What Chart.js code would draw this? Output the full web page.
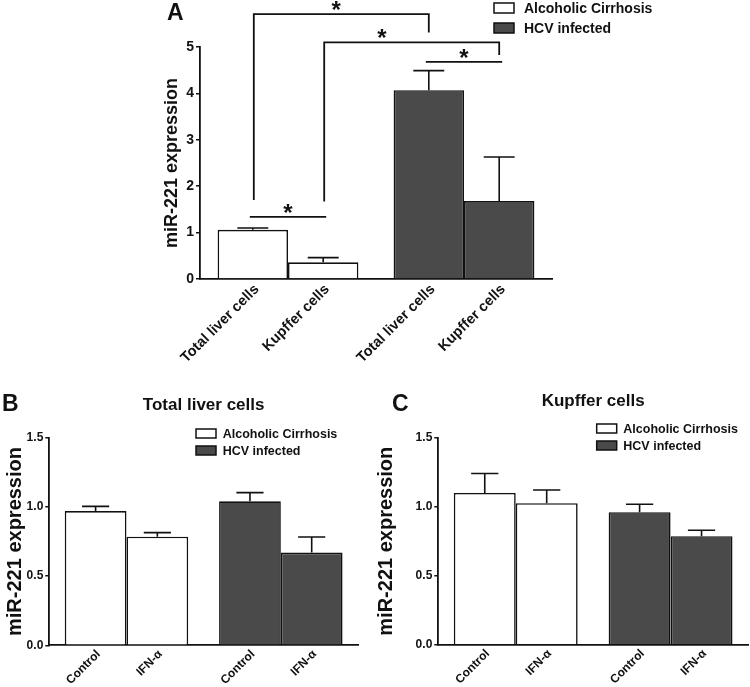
<!DOCTYPE html>
<html>
<head>
<meta charset="utf-8">
<script src="https://cdn.jsdelivr.net/npm/chart.js@4.4.1/dist/chart.umd.min.js"></script>
<style>
  body { margin: 0; background: #fff; width: 750px; height: 687px; position: relative; overflow: hidden; font-family: "Liberation Sans", Arial, sans-serif; }
  .panel { position: absolute; }
  .letter { position: absolute; font-size: 23px; font-weight: bold; line-height: 23px; color: #111; }
</style>
</head>
<body>
<div class="panel" style="left:0;top:0;width:750px;height:385px"><canvas id="chartA"></canvas></div>
<div class="panel" style="left:0;top:385px;width:370px;height:302px"><canvas id="chartB"></canvas></div>
<div class="panel" style="left:370px;top:385px;width:380px;height:302px"><canvas id="chartC"></canvas></div>
<div class="letter" style="left:167px;top:1px">A</div>
<div class="letter" style="left:2px;top:392px">B</div>
<div class="letter" style="left:392px;top:392px">C</div>
<script>
// groups (patients) and their bar colours
const groups = ['Alcoholic Cirrhosis', 'HCV infected'];
const groupColors = ['#ffffff', '#4a4a4a'];

// panel A - mean and SEM per group
const cellTypes = ['Total liver cells', 'Kupffer cells'];
const totalA = [1.06, 4.07];
const totalErrA = [0.04, 0.42];
const kupfferA = [0.36, 1.68];
const kupfferErrA = [0.10, 0.95];

// panel A significance lines (bar index in drawing order, heights in axis units)
const sigFrom = [0, 1, 2, 0];
const sigTo = [2, 3, 3, 1];
const sigLeftFoot = [1.70, 1.67, null, null];
const sigTop = [5.71, 5.10, 4.68, 1.34];
const sigRightFoot = [5.31, 4.83, null, null];
const sigStarAt = [0.47, 0.33, 0.5, 0.5];

// panels B and C
const treatments = ['Control', 'IFN-α'];
const controlB = [0.97, 1.04];
const controlErrB = [0.034, 0.063];
const ifnB = [0.785, 0.67];
const ifnErrB = [0.029, 0.113];

const controlC = [1.10, 0.96];
const controlErrC = [0.141, 0.058];
const ifnC = [1.025, 0.786];
const ifnErrC = [0.096, 0.043];

const FONT = '"Liberation Sans", Arial, sans-serif';
Chart.defaults.font.family = FONT;
Chart.defaults.font.weight = 'bold';
Chart.defaults.color = '#111';

const errorBars = {
  id: 'errorBars',
  afterDatasetsDraw(chart) {
    const ctx = chart.ctx, y = chart.scales.y;
    chart.data.datasets.forEach((ds, i) => {
      chart.getDatasetMeta(i).data.forEach((bar, j) => {
        const top = y.getPixelForValue(ds.data[j] + ds.errors[j]);
        const cap = bar.width * 0.22;
        ctx.save();
        ctx.strokeStyle = '#111';
        ctx.lineWidth = 1.6;
        ctx.beginPath();
        ctx.moveTo(bar.x, bar.y);
        ctx.lineTo(bar.x, top);
        ctx.moveTo(bar.x - cap, top);
        ctx.lineTo(bar.x + cap, top);
        ctx.stroke();
        ctx.restore();
      });
    });
  }
};

// each bar gets its own slanted label under the axis
const barLabels = {
  id: 'barLabels',
  afterDraw(chart, args, opts) {
    const ctx = chart.ctx, bottom = chart.chartArea.bottom;
    ctx.save();
    ctx.font = `bold ${opts.size}px ${FONT}`;
    ctx.fillStyle = '#111';
    ctx.textAlign = 'right';
    ctx.textBaseline = 'middle';
    chart.data.datasets.forEach((ds, i) => {
      chart.getDatasetMeta(i).data.forEach(bar => {
        ctx.save();
        ctx.translate(bar.x + opts.dx, bottom + opts.dy);
        ctx.rotate(-Math.PI / 4);
        ctx.fillText(ds.label, 0, 0);
        ctx.restore();
      });
    });
    ctx.restore();
  }
};

const boxLegend = {
  id: 'boxLegend',
  afterDraw(chart, args, opts) {
    const ctx = chart.ctx, a = chart.chartArea;
    ctx.save();
    ctx.font = `bold ${opts.size}px ${FONT}`;
    ctx.textBaseline = 'middle';
    ctx.textAlign = 'left';
    chart.data.labels.forEach((name, k) => {
      const x = a.left + opts.x, y = a.top + opts.y + k * opts.row;
      ctx.fillStyle = groupColors[k];
      ctx.fillRect(x, y, 20, opts.box);
      ctx.strokeStyle = '#111';
      ctx.lineWidth = 1.5;
      ctx.strokeRect(x, y, 20, opts.box);
      ctx.fillStyle = '#111';
      ctx.fillText(name, x + opts.gap, y + opts.box / 2 + 1);
    });
    ctx.restore();
  }
};

const sigBrackets = {
  id: 'sigBrackets',
  afterDraw(chart, args, opts) {
    if (!opts.show) return;
    const ctx = chart.ctx, y = chart.scales.y;
    const bars = [];
    chart.data.labels.forEach((g, j) => {
      chart.data.datasets.forEach((ds, i) => bars.push(chart.getDatasetMeta(i).data[j]));
    });
    ctx.save();
    ctx.strokeStyle = '#111';
    ctx.fillStyle = '#111';
    ctx.lineWidth = 1.8;
    ctx.font = `bold 24px ${FONT}`;
    ctx.textAlign = 'center';
    sigTop.forEach((v, k) => {
      const flat = sigLeftFoot[k] === null;
      const x1 = bars[sigFrom[k]].x + (flat ? -3 : 1);
      const x2 = bars[sigTo[k]].x + (flat ? 3 : 0);
      const yt = y.getPixelForValue(v);
      ctx.beginPath();
      if (flat) {
        ctx.moveTo(x1, yt);
        ctx.lineTo(x2, yt);
      } else {
        ctx.moveTo(x1, y.getPixelForValue(sigLeftFoot[k]));
        ctx.lineTo(x1, yt);
        ctx.lineTo(x2, yt);
        ctx.lineTo(x2, y.getPixelForValue(sigRightFoot[k]));
      }
      ctx.stroke();
      ctx.fillText('*', x1 + (x2 - x1) * sigStarAt[k], yt + 4);
    });
    ctx.restore();
  }
};

function barChart(id, p) {
  return new Chart(document.getElementById(id), {
    type: 'bar',
    data: {
      labels: groups,
      datasets: p.series.map(s => ({
        label: s.label,
        data: s.data,
        errors: s.errors,
        backgroundColor: groupColors,
        borderColor: '#111',
        borderWidth: 1.6,
        barPercentage: 1,
        categoryPercentage: 0.8
      }))
    },
    options: {
      responsive: true,
      maintainAspectRatio: false,
      animation: false,
      layout: { padding: p.padding },
      scales: {
        x: {
          grid: { display: false },
          ticks: { display: false },
          border: { color: '#111', width: 1.8 },
          afterFit: s => { s.height = p.xHeight; }
        },
        y: {
          min: 0,
          max: p.max,
          ticks: {
            stepSize: p.step,
            padding: 2,
            font: { size: p.tickSize },
            callback: v => p.step < 1 ? v.toFixed(1) : v
          },
          grid: { drawOnChartArea: false, tickLength: 4, color: '#111', lineWidth: 1.5 },
          border: { color: '#111', width: 1.8 },
          title: {
            display: true,
            text: 'miR-221 expression',
            font: { size: p.titleSize },
            padding: { top: p.titlePad, bottom: 0 }
          },
          afterFit: s => { s.width = p.yWidth; }
        }
      },
      plugins: {
        legend: { display: false },
        tooltip: { enabled: false },
        title: p.title ? {
          display: true,
          text: p.title,
          fullSize: false,
          font: { size: 17 },
          padding: p.titlePadding
        } : { display: false },
        barLabels: p.labels,
        boxLegend: p.legend,
        sigBrackets: { show: !!p.brackets }
      }
    },
    plugins: [errorBars, barLabels, boxLegend, sigBrackets]
  });
}

barChart('chartA', {
  series: [
    { label: cellTypes[0], data: totalA, errors: totalErrA },
    { label: cellTypes[1], data: kupfferA, errors: kupfferErrA }
  ],
  max: 5, step: 1, tickSize: 14, titleSize: 18, titlePad: 161,
  yWidth: 200, xHeight: 106,
  padding: { top: 47, right: 198, bottom: 0, left: 0 },
  labels: { size: 14.5, dx: 4, dy: 8 },
  legend: { x: 294, y: -44, row: 20, box: 10, gap: 30, size: 14 },
  brackets: true
});

barChart('chartB', {
  series: [
    { label: treatments[0], data: controlB, errors: controlErrB },
    { label: treatments[1], data: ifnB, errors: ifnErrB }
  ],
  max: 1.5, step: 0.5, tickSize: 12, titleSize: 20, titlePad: 3,
  yWidth: 49.3, xHeight: 41.7,
  padding: { top: 0, right: 12, bottom: 0, left: 0 },
  title: 'Total liver cells',
  titlePadding: { top: 10, bottom: 22.3 },
  labels: { size: 12, dx: 3, dy: 7 },
  legend: { x: 146.7, y: -8.7, row: 17, box: 9, gap: 26.7, size: 12.5 }
});

barChart('chartC', {
  series: [
    { label: treatments[0], data: controlC, errors: controlErrC },
    { label: treatments[1], data: ifnC, errors: ifnErrC }
  ],
  max: 1.5, step: 0.5, tickSize: 12, titleSize: 20, titlePad: 4,
  yWidth: 68.3, xHeight: 42.3,
  padding: { top: 0, right: 2, bottom: 0, left: 0 },
  title: 'Kupffer cells',
  titlePadding: { top: 6, bottom: 26.3 },
  labels: { size: 12, dx: 3, dy: 7 },
  legend: { x: 158.4, y: -13.7, row: 17, box: 9, gap: 26.6, size: 12.5 }
});
</script>
</body>
</html>
